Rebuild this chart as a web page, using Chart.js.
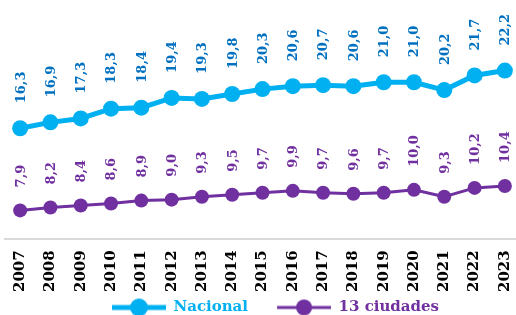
<!DOCTYPE html>
<html>
<head>
<meta charset="utf-8">
<script src="https://cdn.jsdelivr.net/npm/chart.js@4.4.0/dist/chart.umd.min.js"></script>
<style>
html, body { margin: 0; padding: 0; background: #fff; overflow: hidden; }
#wrap { width: 520px; height: 315px; }
</style>
</head>
<body>
<div id="wrap"><canvas id="chart"></canvas></div>
<script>
// data
const years = ['2007','2008','2009','2010','2011','2012','2013','2014','2015','2016','2017','2018','2019','2020','2021','2022','2023'];
const nacional = [16.3, 16.9, 17.3, 18.3, 18.4, 19.4, 19.3, 19.8, 20.3, 20.6, 20.7, 20.6, 21.0, 21.0, 20.2, 21.7, 22.2];
const ciudades = [7.9, 8.2, 8.4, 8.6, 8.9, 9.0, 9.3, 9.5, 9.7, 9.9, 9.7, 9.6, 9.7, 10.0, 9.3, 10.2, 10.4];
const seriesNames = ['Nacional', '13 ciudades'];

const blue = '#00b0f0';
const blueText = '#0070c0';
const purple = '#7030a0';
const serif = "'DejaVu Serif', serif";

// legend marker: line with a dot, some blank room on the left as item gap
const makeMarker = (color, lw, r) => {
    const c = document.createElement('canvas');
    c.width = 80; c.height = 20;
    const g = c.getContext('2d');
    g.strokeStyle = color; g.lineWidth = lw;
    g.beginPath(); g.moveTo(26, 10); g.lineTo(80, 10); g.stroke();
    g.fillStyle = color;
    g.beginPath(); g.arc(53, 10, r, 0, Math.PI * 2); g.fill();
    return c;
};

// value labels, rotated, above every point
const valueLabels = {
    id: 'valueLabels',
    afterDatasetsDraw(chart) {
        const ctx = chart.ctx;
        chart.data.datasets.forEach((ds, i) => {
            const meta = chart.getDatasetMeta(i);
            meta.data.forEach((pt, j) => {
                ctx.save();
                ctx.translate(pt.x, pt.y - ds.labelGap);
                ctx.rotate(-Math.PI / 2);
                ctx.font = 'bold 13px ' + serif;
                ctx.fillStyle = ds.labelColor;
                ctx.textAlign = 'left';
                ctx.textBaseline = 'middle';
                ctx.fillText(ds.data[j].toFixed(1).replace('.', ','), 0, 1);
                ctx.restore();
            });
        });
    }
};

new Chart(document.getElementById('chart'), {
    type: 'line',
    data: {
        labels: years,
        datasets: [{
            label: seriesNames[0],
            data: nacional,
            borderColor: blue,
            backgroundColor: blue,
            borderWidth: 5,
            pointRadius: 8,
            pointHoverRadius: 8,
            pointBorderWidth: 0,
            labelColor: blueText,
            labelGap: 25,
            marker: makeMarker(blue, 5, 9)
        }, {
            label: seriesNames[1],
            data: ciudades,
            borderColor: purple,
            backgroundColor: purple,
            borderWidth: 3,
            pointRadius: 7,
            pointHoverRadius: 7,
            pointBorderWidth: 0,
            labelColor: purple,
            labelGap: 23,
            marker: makeMarker(purple, 3, 8)
        }]
    },
    options: {
        responsive: true,
        maintainAspectRatio: false,
        animation: false,
        layout: { autoPadding: false, padding: { top: 5, left: 5, right: 0, bottom: -4 } },
        scales: {
            x: {
                offset: true,
                grid: { display: false, drawTicks: false },
                border: { display: true, color: '#d9d9d9', width: 2 },
                afterFit: (scale) => {
                    scale.paddingLeft = 0;
                    scale.paddingRight = 0;
                    scale.height -= 6;
                },
                ticks: {
                    minRotation: 90,
                    maxRotation: 90,
                    padding: 11,
                    color: '#000',
                    font: { family: serif, size: 15, weight: 'bold' }
                }
            },
            y: {
                display: false,
                min: 4.95,
                max: 28.9
            }
        },
        plugins: {
            tooltip: { enabled: false },
            legend: {
                position: 'bottom',
                maxHeight: 22,
                labels: {
                    usePointStyle: true,
                    pointStyleWidth: 80,
                    padding: 3,
                    font: { family: serif, size: 15, weight: 'bold' },
                    generateLabels: (chart) => chart.data.datasets.map((ds, i) => ({
                        text: ds.label,
                        fontColor: ds.borderColor,
                        pointStyle: ds.marker,
                        strokeStyle: ds.borderColor,
                        fillStyle: ds.borderColor,
                        lineWidth: 0,
                        datasetIndex: i
                    }))
                }
            }
        }
    },
    plugins: [valueLabels]
});
</script>
</body>
</html>
